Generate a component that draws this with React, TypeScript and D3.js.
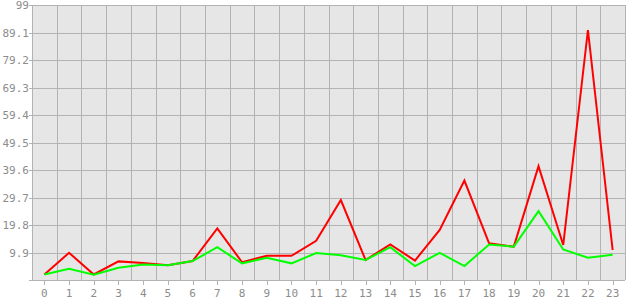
import React from "react";
import * as d3 from "d3";

const categories: string[] = Array.from({ length: 24 }, (_, i) => String(i));
const redValues: number[] = [2.0, 9.8, 2.0, 6.7, 6.1, 5.3, 6.8, 18.6, 6.4, 8.7, 8.7, 14.1, 28.8, 7.2, 12.8, 7.0, 18.0, 35.8, 13.2, 12.0, 41.0, 12.6, 90.0, 10.8];
const greenValues: number[] = [2.0, 4.0, 1.9, 4.4, 5.6, 5.3, 6.8, 11.8, 6.0, 8.0, 6.0, 9.7, 8.9, 7.2, 11.8, 5.0, 9.8, 5.0, 12.8, 12.0, 24.8, 11.0, 8.0, 9.1];
const yTicks: number[] = [0, 9.9, 19.8, 29.7, 39.6, 49.5, 59.4, 69.3, 79.2, 89.1, 99];
const yTickLabels: string[] = ["", "9.9", "19.8", "29.7", "39.6", "49.5", "59.4", "69.3", "79.2", "89.1", "99"];

const W = 630;
const H = 300;
const left = 32;
const right = 625;
const top = 5;
const bottom = 280;
const gridColor = "#b3b3b3";
const textColor = "#8c8c8c";
const font = "'DejaVu Sans Mono', monospace";

export default function App() {
  const x = d3.scaleBand<string>().domain(categories).range([left, right]).padding(0);
  const y = d3.scaleLinear().domain([0, 99]).range([bottom, top]);
  const line = d3
    .line<number>()
    .x((_, i) => (x(categories[i]) as number) + x.bandwidth() / 2)
    .y((d) => y(d));

  const boundaries = categories.slice(1).map((c) => x(c) as number);

  return (
    <svg width={W} height={H} style={{ position: "absolute", left: 0, top: 0, background: "#fff" }}>
      <rect x={left} y={top} width={right - left} height={bottom - top} fill="#e6e6e6" />
      {yTicks.map((t, i) => (
        <g key={"y" + i}>
          <line x1={left - 3} x2={right} y1={Math.round(y(t)) + 0.5} y2={Math.round(y(t)) + 0.5} stroke={gridColor} strokeWidth={1} />
          <text x={29} y={Math.max(y(t) + 4, 8.5)} textAnchor="end" fontFamily={font} fontSize={11} fill={textColor}>
            {yTickLabels[i]}
          </text>
        </g>
      ))}
      {boundaries.map((b, i) => (
        <line key={"v" + i} x1={Math.round(b) + 0.5} x2={Math.round(b) + 0.5} y1={top} y2={bottom} stroke={gridColor} strokeWidth={1} />
      ))}
      <line x1={left + 0.5} x2={left + 0.5} y1={top} y2={bottom} stroke={gridColor} strokeWidth={1} />
      <line x1={right + 0.5} x2={right + 0.5} y1={top} y2={bottom} stroke={gridColor} strokeWidth={1} />
      {categories.map((c, i) => {
        const cx = (x(c) as number) + x.bandwidth() / 2;
        return (
          <g key={"x" + i}>
            <line x1={Math.round(cx) + 0.5} x2={Math.round(cx) + 0.5} y1={bottom} y2={bottom + 5} stroke={gridColor} strokeWidth={1} />
            <text x={cx} y={297} textAnchor="middle" fontFamily={font} fontSize={11} fill={textColor}>
              {c}
            </text>
          </g>
        );
      })}
      <path d={line(redValues) as string} fill="none" stroke="#ff0000" strokeWidth={2} strokeLinejoin="miter" />
      <path d={line(greenValues) as string} fill="none" stroke="#00ff00" strokeWidth={2} strokeLinejoin="miter" />
    </svg>
  );
}
